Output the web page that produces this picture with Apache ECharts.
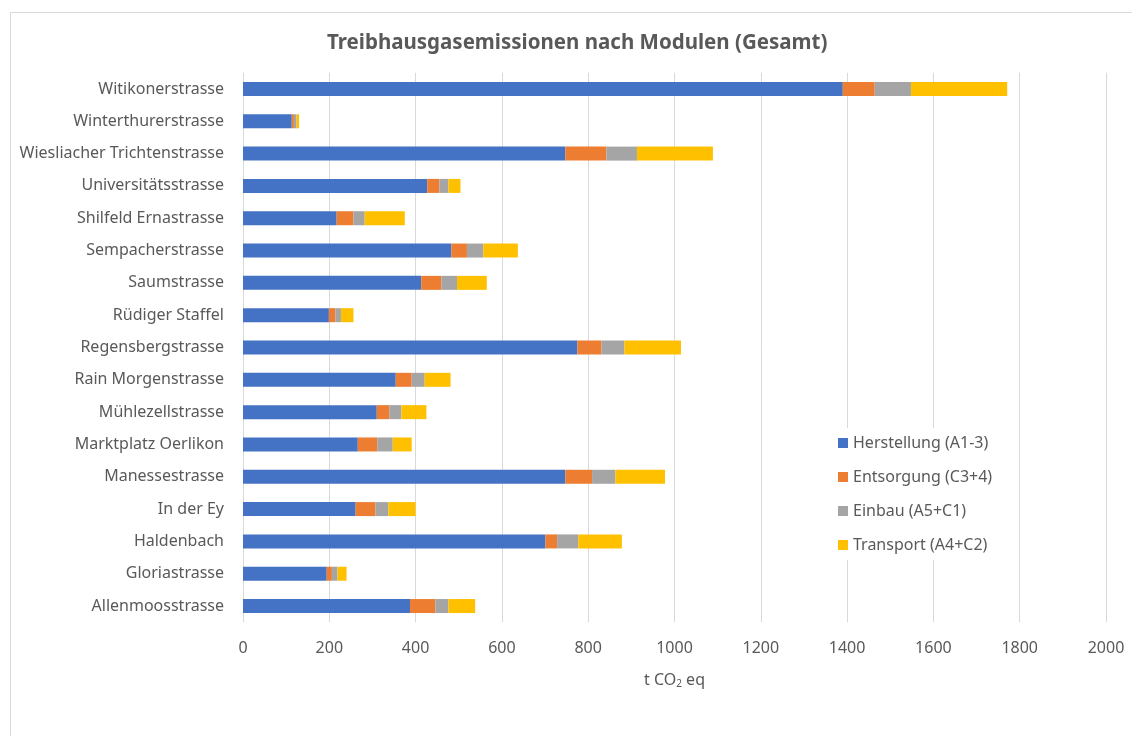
<!DOCTYPE html>
<html>
<head>
<meta charset="utf-8">
<script src="https://cdn.jsdelivr.net/npm/echarts@6/dist/echarts.min.js"></script>
<style>
html,body{margin:0;padding:0;background:#fff;}
#main{width:1132px;height:736px;}
</style>
</head>
<body>
<div id="main"></div>
<script>
// Kategorien von unten nach oben
var strassen = ['Allenmoosstrasse','Gloriastrasse','Haldenbach','In der Ey','Manessestrasse','Marktplatz Oerlikon','Mühlezellstrasse','Rain Morgenstrasse','Regensbergstrasse','Rüdiger Staffel','Saumstrasse','Sempacherstrasse','Shilfeld Ernastrasse','Universitätsstrasse','Wiesliacher Trichtenstrasse','Winterthurerstrasse','Witikonerstrasse'];
var herstellung = [387,194,701,261,747,266,310,354,775,199,413,483,217,427,747,113,1390];
var entsorgung  = [59,12,27,46,62,45,29,37,56,15,47,36,39,28,95,5,74];
var einbau      = [30,13,49,30,54,36,28,30,53,13,36,38,26,21,71,6,84];
var transport   = [62,21,101,63,115,44,58,60,131,29,69,80,93,28,176,6,223];
var xTicks = [0,200,400,600,800,1000,1200,1400,1600,1800,2000];

var txt = '#595959';
var font = 'Noto Sans';

function serie(name, data, color){
	return {
		name: name,
		type: 'bar',
		stack: 'gesamt',
		barWidth: 14,
		itemStyle: {color: color},
		data: data
	};
}

var myChart = echarts.init(document.getElementById('main'));
var option = {
	backgroundColor: '#fff',
	animation: false,
	textStyle: {fontFamily: font},
	graphic: [{
		type: 'rect',
		shape: {x: 10.5, y: 12.5, width: 1140, height: 740},
		style: {fill: 'none', stroke: '#d9d9d9', lineWidth: 1}
	}],
	title: {
		text: 'Treibhausgasemissionen nach Modulen (Gesamt)',
		left: 322,
		top: 28,
		textStyle: {color: txt, fontSize: 20.5, fontWeight: 'bold', fontFamily: font}
	},
	legend: {
		orient: 'vertical',
		left: 834,
		top: 428,
		itemWidth: 10,
		itemHeight: 10,
		itemGap: 12,
		padding: [4, 8, 4, 4],
		backgroundColor: '#fff',
		icon: 'rect',
		textStyle: {color: txt, fontSize: 16, fontFamily: font, lineHeight: 22},
		data: ['Herstellung (A1-3)','Entsorgung (C3+4)','Einbau (A5+C1)','Transport (A4+C2)']
	},
	grid: {left: 243, right: 26, top: 72.8, bottom: 113.8, containLabel: false},
	xAxis: {
		type: 'value',
		min: xTicks[0],
		max: xTicks[xTicks.length-1],
		interval: 200,
		name: 't CO{sub|2} eq',
		nameLocation: 'middle',
		nameGap: 50,
		nameTextStyle: {
			color: txt, fontSize: 16, fontFamily: font,
			rich: {sub: {fontSize: 10, verticalAlign: 'bottom', padding: [7, 0, 0, 0], color: txt, fontFamily: font}}
		},
		axisLine: {show: false},
		axisTick: {show: false},
		axisLabel: {
			color: txt, fontSize: 16, margin: 18, fontFamily: font,
			formatter: function(v){ return String(v); }
		},
		splitLine: {lineStyle: {color: '#d9d9d9', width: 1}}
	},
	yAxis: {
		type: 'category',
		data: strassen,
		axisLine: {show: false},
		axisTick: {show: false},
		axisLabel: {color: txt, fontSize: 16, margin: 19, fontFamily: font}
	},
	series: [
		serie('Herstellung (A1-3)', herstellung, '#4472C4'),
		serie('Entsorgung (C3+4)', entsorgung, '#ED7D31'),
		serie('Einbau (A5+C1)', einbau, '#A5A5A5'),
		serie('Transport (A4+C2)', transport, '#FFC000')
	]
};
myChart.setOption(option);
</script>
</body>
</html>
